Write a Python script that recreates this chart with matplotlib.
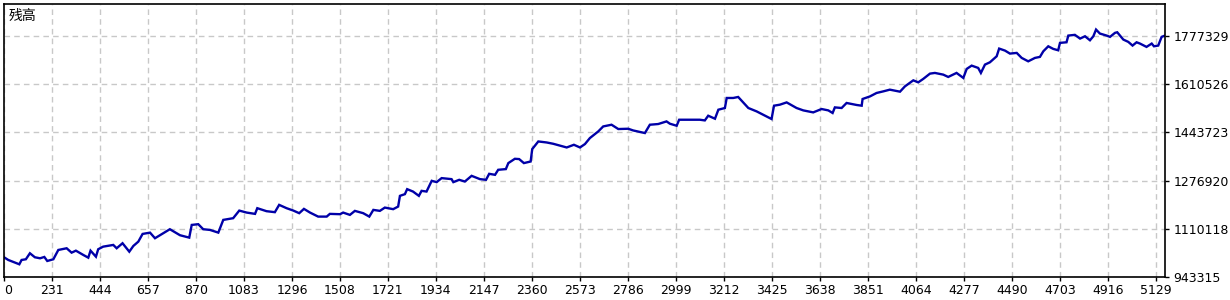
import matplotlib
matplotlib.use("Agg")
import matplotlib.pyplot as plt

# Balance curve (trade index, balance)
TRADE = [18, 37, 67, 86, 96, 115, 133, 155, 178, 197, 210, 237, 259, 296, 318, 337,
         370, 392, 402, 426, 436, 458, 503, 518, 544, 574, 592, 614, 633, 666, 688,
         725, 754, 799, 840, 851, 880, 902, 932, 969, 991, 1035, 1062, 1095, 1132,
         1142, 1183, 1220, 1239, 1272, 1302, 1328, 1349, 1376, 1412, 1450, 1464,
         1509, 1523, 1553, 1575, 1612, 1639, 1657, 1686, 1708, 1745, 1767, 1775,
         1797, 1807, 1833, 1859, 1871, 1893, 1916, 1938, 1960, 2004, 2012, 2038,
         2063, 2093, 2130, 2157, 2171, 2197, 2211, 2245, 2256, 2285, 2304, 2325,
         2355, 2362, 2389, 2426, 2455, 2515, 2547, 2574, 2596, 2618, 2655, 2677,
         2714, 2744, 2788, 2810, 2862, 2884, 2921, 2958, 2973, 3003, 3014, 3106,
         3128, 3143, 3173, 3188, 3217, 3225, 3254, 3276, 3291, 3321, 3358, 3387,
         3424, 3435, 3461, 3491, 3535, 3565, 3609, 3646, 3676, 3695, 3705, 3735,
         3757, 3802, 3824, 3828, 3861, 3890, 3920, 3949, 3994, 4016, 4053, 4075,
         4097, 4127, 4149, 4186, 4208, 4245, 4275, 4290, 4312, 4341, 4353, 4371,
         4393, 4423, 4434, 4460, 4482, 4512, 4534, 4563, 4593, 4615, 4630, 4652,
         4674, 4696, 4704, 4733, 4741, 4770, 4793, 4815, 4837, 4852, 4864, 4881,
         4911, 4926, 4948, 4958, 4985, 5007, 5026, 5044, 5059, 5088, 5111, 5121,
         5140, 5155, 5170]
BALANCE = [1011600, 1002300, 992900, 987300, 1002300, 1004700, 1025500, 1011600,
           1008100, 1012700, 998800, 1004700, 1036900, 1042800, 1027600, 1034500,
           1019600, 1010200, 1034500, 1013700, 1039400, 1048400, 1054300, 1042800,
           1060200, 1031000, 1050800, 1065700, 1092400, 1096900, 1077500, 1094800,
           1108700, 1087900, 1079600, 1123600, 1126100, 1108700, 1106300, 1096900,
           1141000, 1146900, 1173200, 1166300, 1161800, 1181500, 1171100, 1167700,
           1193000, 1181500, 1173200, 1164200, 1179100, 1166300, 1152400, 1152400,
           1161800, 1160700, 1166300, 1158300, 1172200, 1164200, 1152400, 1175600,
           1172200, 1183600, 1178100, 1187100, 1224200, 1230100, 1247400, 1239100,
           1224200, 1241500, 1239100, 1276200, 1271700, 1285600, 1282100, 1271700,
           1279700, 1273800, 1293500, 1282100, 1279700, 1300500, 1297000, 1314400,
           1316800, 1337600, 1352500, 1351500, 1337600, 1343100, 1386100, 1412500,
           1409000, 1404500, 1391700, 1401000, 1391700, 1403500, 1424300, 1447200,
           1464500, 1470400, 1455500, 1456500, 1450600, 1441600, 1470400, 1472800,
           1481900, 1473900, 1466900, 1487700, 1487700, 1485300, 1501600, 1491200,
           1522400, 1528300, 1563000, 1563000, 1566500, 1553600, 1528300, 1516500,
           1505100, 1490200, 1536300, 1539800, 1547700, 1528300, 1520000, 1513100,
           1524800, 1520000, 1511000, 1530400, 1528300, 1545700, 1538700, 1536300,
           1559500, 1568500, 1580300, 1585900, 1591800, 1584800, 1603200, 1624000,
           1617100, 1628900, 1647300, 1649700, 1643800, 1635800, 1649700, 1632400,
           1663600, 1675000, 1667000, 1649700, 1678500, 1686500, 1707300, 1734000,
           1727000, 1716600, 1719000, 1701700, 1689900, 1701700, 1705200, 1724600,
           1741900, 1732900, 1728100, 1753700, 1755800, 1779000, 1781500, 1768600,
           1776600, 1762700, 1776600, 1799800, 1786000, 1779000, 1774500, 1788400,
           1790500, 1765200, 1757200, 1744400, 1755800, 1751300, 1739800, 1751300,
           1741900, 1744400, 1774500, 1779000]

X_TICKS = [0, 231, 444, 657, 870, 1083, 1296, 1508, 1721, 1934, 2147, 2360, 2573,
           2786, 2999, 3212, 3425, 3638, 3851, 4064, 4277, 4490, 4703, 4916, 5129]
Y_TICKS = [943315, 1110118, 1276920, 1443723, 1610526, 1777329]
TITLE = "残高"

X_MIN, X_MAX = 18, 5170
Y_MIN, Y_MAX = 943315, 1888300

plt.rcParams["font.family"] = ["DejaVu Sans"]
W, H = 1230, 300
fig = plt.figure(figsize=(W / 100, H / 100), dpi=100)
ax = fig.add_axes([4 / W, 1 - 277 / H, (1165 - 4) / W, (277 - 4) / H])

ax.plot(TRADE, BALANCE, color="#0000a8", lw=1.7, solid_joinstyle="miter")

ax.set_xlim(X_MIN, X_MAX)
ax.set_ylim(Y_MIN, Y_MAX)

xpos = [max(t, X_MIN) for t in X_TICKS]
ax.set_xticks(xpos)
ax.set_xticklabels([str(t) for t in X_TICKS])
ax.get_xticklabels()[0].set_horizontalalignment("left")
ax.set_yticks(Y_TICKS)
ax.set_yticklabels([str(t) for t in Y_TICKS])
ax.yaxis.tick_right()

ax.tick_params(axis="both", direction="out", length=3, width=1, color="black",
               labelsize=9, labelcolor="black", pad=2)
ax.tick_params(axis="y", pad=3)

ax.grid(True, color="#c8c8c8", linestyle=(0, (4, 3)), linewidth=1)
ax.set_axisbelow(True)
for sp in ax.spines.values():
    sp.set_color("black")
    sp.set_linewidth(1.2)

ax.text(5 / (1165 - 4), 1 - 5 / 273, TITLE, transform=ax.transAxes, ha="left",
        va="top", fontsize=10, family=["Noto Sans CJK SC", "DejaVu Sans"])

fig.savefig("out.png", dpi=100, facecolor="white")
